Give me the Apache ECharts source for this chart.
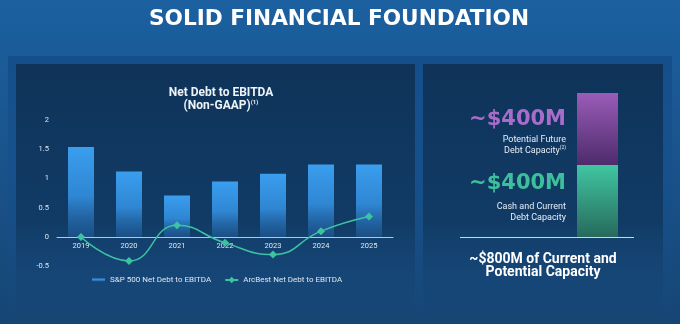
<!DOCTYPE html>
<html>
<head>
<meta charset="utf-8">
<script src="https://cdn.jsdelivr.net/npm/echarts@6/dist/echarts.min.js"></script>
<style>
  html, body { margin: 0; padding: 0; background: #174a78; }
  #chart { width: 680px; height: 324px; }
</style>
</head>
<body>
<div id="chart"></div>
<script>
// Net debt to EBITDA by year
const years = ['2019', '2020', '2021', '2022', '2023', '2024', '2025'];
const sp500Ratio = [1.54, 1.12, 0.71, 0.95, 1.08, 1.24, 1.24];
const arcbestRatio = [0.0, -0.41, 0.2, -0.1, -0.3, 0.1, 0.35];
const yTicks = [-0.5, 0, 0.5, 1, 1.5, 2];

// Capacity breakdown ($M)
const capacityCategory = ['Capacity'];
const cashCapacity = [400];
const futureCapacity = [400];

const seriesNames = ['S&P 500 Net Debt to EBITDA', 'ArcBest Net Debt to EBITDA'];

const chart = echarts.init(document.getElementById('chart'), null, { renderer: 'canvas' });

const font = 'Roboto, "DejaVu Sans", sans-serif';

function capacityLabel(color, lines, bigLineHeight, dy) {
  return {
    show: true,
    position: 'left',
    distance: 11,
    align: 'right',
    offset: [0, dy],
    formatter: function (p) {
      return '{big|~$' + p.value + 'M}\n' + lines;
    },
    rich: {
      big: { fontFamily: '"DejaVu Sans", sans-serif', fontWeight: 'bold', fontSize: 21, color: color, lineHeight: bigLineHeight, align: 'right' },
      small: { fontFamily: font, fontSize: 9, color: '#e6edf5', lineHeight: 11, align: 'right' },
      sup: { fontFamily: font, fontSize: 5, color: '#e6edf5', lineHeight: 11, align: 'right', verticalAlign: 'top' }
    }
  };
}

const panelFrameFill = { type: 'linear', x: 0, y: 0, x2: 0, y2: 1,
  colorStops: [{ offset: 0, color: 'rgba(20,78,138,0.95)' }, { offset: 1, color: 'rgba(20,78,138,0)' }] };
const panelBodyFill = { type: 'linear', x: 0, y: 0, x2: 0, y2: 1,
  colorStops: [{ offset: 0, color: '#0f3359' }, { offset: 0.6, color: 'rgba(16,55,95,0.85)' }, { offset: 1, color: 'rgba(22,70,115,0)' }] };

const option = {
  backgroundColor: {
    type: 'linear', x: 0, y: 0, x2: 0, y2: 1,
    colorStops: [
      { offset: 0, color: '#1b60a0' },
      { offset: 0.35, color: '#1a5792' },
      { offset: 1, color: '#164574' }
    ]
  },
  textStyle: { fontFamily: font },
  graphic: [
    // panel frames
    { type: 'rect', z: -10, shape: { x: 8, y: 56, width: 411, height: 268 }, style: { fill: panelFrameFill } },
    { type: 'rect', z: -10, shape: { x: 419, y: 56, width: 253, height: 268 }, style: { fill: panelFrameFill } },
    // panel bodies
    { type: 'rect', z: -9, shape: { x: 16, y: 64, width: 399, height: 260 }, style: { fill: panelBodyFill } },
    { type: 'rect', z: -9, shape: { x: 423, y: 64, width: 240, height: 260 }, style: { fill: panelBodyFill } },
    // page heading
    { type: 'text', x: 339, y: 20, scaleX: 1.03, originX: 0, originY: 0,
      style: { text: 'SOLID FINANCIAL FOUNDATION', fill: '#ffffff', align: 'center', verticalAlign: 'middle',
        font: 'bold 21px "DejaVu Sans", sans-serif' } },
    // divider under the capacity bar
    { type: 'line', shape: { x1: 460, y1: 237.5, x2: 634, y2: 237.5 },
      style: { stroke: '#c9d6e6', lineWidth: 1 } },
    // capacity total
    { type: 'text', x: 543, y: 265.5, z: 5,
      style: { text: '~$800M of Current and\nPotential Capacity', fill: '#ffffff',
        font: 'bold 14px ' + font, align: 'center', verticalAlign: 'middle', lineHeight: 13 } }
  ],
  title: {
    text: 'Net Debt to EBITDA\n{p|(Non-GAAP)}{s|(1)}',
    left: 216, top: 81, textAlign: 'center',
    textStyle: {
      color: '#eef3f8', fontSize: 12, fontWeight: 'bold', lineHeight: 13, fontFamily: font,
      rich: {
        p: { color: '#eef3f8', fontSize: 12, fontWeight: 'bold', lineHeight: 13, fontFamily: font },
        s: { color: '#eef3f8', fontSize: 6, lineHeight: 13, fontFamily: font, verticalAlign: 'top' }
      }
    }
  },
  legend: {
    data: [
      { name: seriesNames[0], icon: 'path://M0,0h13v3h-13z' },
      { name: seriesNames[1] }
    ],
    top: 271, left: 87,
    itemWidth: 13, itemHeight: 8, itemGap: 13,
    textStyle: { color: '#dfe7f0', fontSize: 8, fontFamily: font },
    selectedMode: false
  },
  grid: [
    { left: 57, top: 120, width: 336, height: 146.25 },
    { left: 577, top: 93, width: 41, height: 144 }
  ],
  xAxis: [
    {
      type: 'category', data: years, gridIndex: 0, position: 'bottom', offset: -29.25,
      axisLine: { onZero: false, lineStyle: { color: '#b8c6d6', width: 1 } },
      axisTick: { show: false },
      axisLabel: { color: '#dfe7f0', fontSize: 7.5, margin: 5 }
    },
    { type: 'category', data: capacityCategory, gridIndex: 1, show: false }
  ],
  yAxis: [
    {
      type: 'value', gridIndex: 0, min: yTicks[0], max: yTicks[yTicks.length - 1], interval: 0.5,
      axisLine: { show: false }, axisTick: { show: false }, splitLine: { show: false },
      axisLabel: { color: '#dfe7f0', fontSize: 7.5, margin: 8 }
    },
    { type: 'value', gridIndex: 1, min: 0, max: 800, show: false }
  ],
  series: [
    {
      name: seriesNames[0], type: 'bar', xAxisIndex: 0, yAxisIndex: 0,
      data: sp500Ratio, barWidth: 26,
      itemStyle: {
        color: { type: 'linear', x: 0, y: 0, x2: 0, y2: 1,
          colorStops: [{ offset: 0, color: '#3a9eee' }, { offset: 0.55, color: '#2f86d2' }, { offset: 1, color: 'rgba(40,110,180,0.35)' }] }
      }
    },
    {
      name: seriesNames[1], type: 'line', xAxisIndex: 0, yAxisIndex: 0,
      data: arcbestRatio, smooth: 0.5,
      symbol: 'diamond', symbolSize: 8,
      lineStyle: { color: '#3cc3a2', width: 1.5 },
      itemStyle: { color: '#3cc3a2' },
      z: 5
    },
    {
      name: 'Cash and Current Debt Capacity', type: 'bar', stack: 'cap',
      xAxisIndex: 1, yAxisIndex: 1, data: cashCapacity, barWidth: '100%',
      itemStyle: { color: { type: 'linear', x: 0, y: 0, x2: 0, y2: 1,
        colorStops: [{ offset: 0, color: '#40c6a2' }, { offset: 1, color: '#276a5c' }] } },
      label: capacityLabel('#3ebf9c', '{small|Cash and Current}\n{small|Debt Capacity}', 34, -6)
    },
    {
      name: 'Potential Future Debt Capacity', type: 'bar', stack: 'cap',
      xAxisIndex: 1, yAxisIndex: 1, data: futureCapacity, barWidth: '100%',
      itemStyle: { color: { type: 'linear', x: 0, y: 0, x2: 0, y2: 1,
        colorStops: [{ offset: 0, color: '#9a5cb8' }, { offset: 1, color: '#4d2b6b' }] } },
      label: capacityLabel('#a86ccb', '{small|Potential Future}\n{small|Debt Capacity}{sup|(2)}', 28, 2)
    }
  ]
};

chart.setOption(option);
</script>
</body>
</html>
